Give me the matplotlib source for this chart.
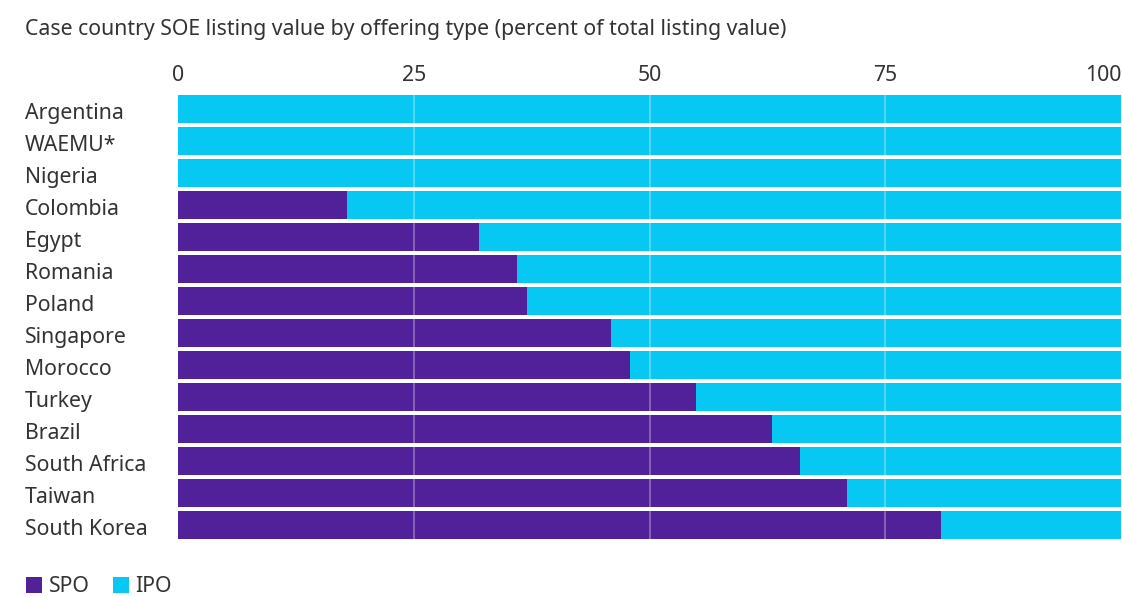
import matplotlib.pyplot as plt
import matplotlib.transforms as mtransforms
import numpy as np

# Données
countries = ['Argentina', 'WAEMU*', 'Nigeria', 'Colombia', 'Egypt', 'Romania',
             'Poland', 'Singapore', 'Morocco', 'Turkey', 'Brazil',
             'South Africa', 'Taiwan', 'South Korea']
spo = [0, 0, 0, 17.9, 31.9, 35.9, 37.0, 45.9, 47.9, 54.9, 63.0, 66.0, 70.9, 80.9]
ipo = [100 - v for v in spo]
ticks = [0, 25, 50, 75, 100]

purple = '#51219A'
cyan = '#06C8F2'
txt = '#333333'
fs = 15.3

plt.rcParams['font.family'] = ['Noto Sans', 'DejaVu Sans']

fig = plt.figure(figsize=(11.22, 5.96), dpi=100)
ax = fig.add_axes([178 / 1122, 1 - 541 / 596, (1121 - 178) / 1122, 448 / 596])

y = np.arange(len(countries))
ax.barh(y, spo, height=0.875, color=purple, label='SPO', zorder=2)
ax.barh(y, ipo, left=spo, height=0.875, color=cyan, label='IPO', zorder=2)

for t in ticks[1:-1]:
    ax.axvline(t, color='white', alpha=0.35, lw=1.2, zorder=3)

ax.set_xlim(0, 100)
ax.set_ylim(len(countries) - 0.5, -0.5)
ax.set_yticks(y)
ax.set_yticklabels(countries, fontsize=fs, color=txt, ha='left', va='center_baseline')
# pad en points : 153 px -> 110 pt
ax.tick_params(axis='y', length=0, pad=153 * 0.72)
# petit décalage vers le bas des étiquettes
offset = mtransforms.ScaledTranslation(0, -2 / 100, fig.dpi_scale_trans)
for lab in ax.get_yticklabels():
    lab.set_transform(lab.get_transform() + offset)
ax.xaxis.tick_top()
ax.set_xticks(ticks)
ax.set_xticklabels([str(t) for t in ticks], fontsize=fs, color=txt)
ax.tick_params(axis='x', length=0, pad=5)
ax.get_xticklabels()[-1].set_ha('right')
for s in ax.spines.values():
    s.set_visible(False)

fig.text(25 / 1122, 1 - 30 / 596, 'Case country SOE listing value by offering type (percent of total listing value)',
         fontsize=fs, color=txt, va='center', ha='left')

fig.legend(loc='lower left', bbox_to_anchor=(24 / 1122, -0.006), ncol=2, frameon=False,
           borderpad=0.1, borderaxespad=0,
           handlelength=0.75, handleheight=0.75, handletextpad=0.3, columnspacing=1.1,
           fontsize=fs, labelcolor=txt)

fig.savefig('out.png', dpi=100)
